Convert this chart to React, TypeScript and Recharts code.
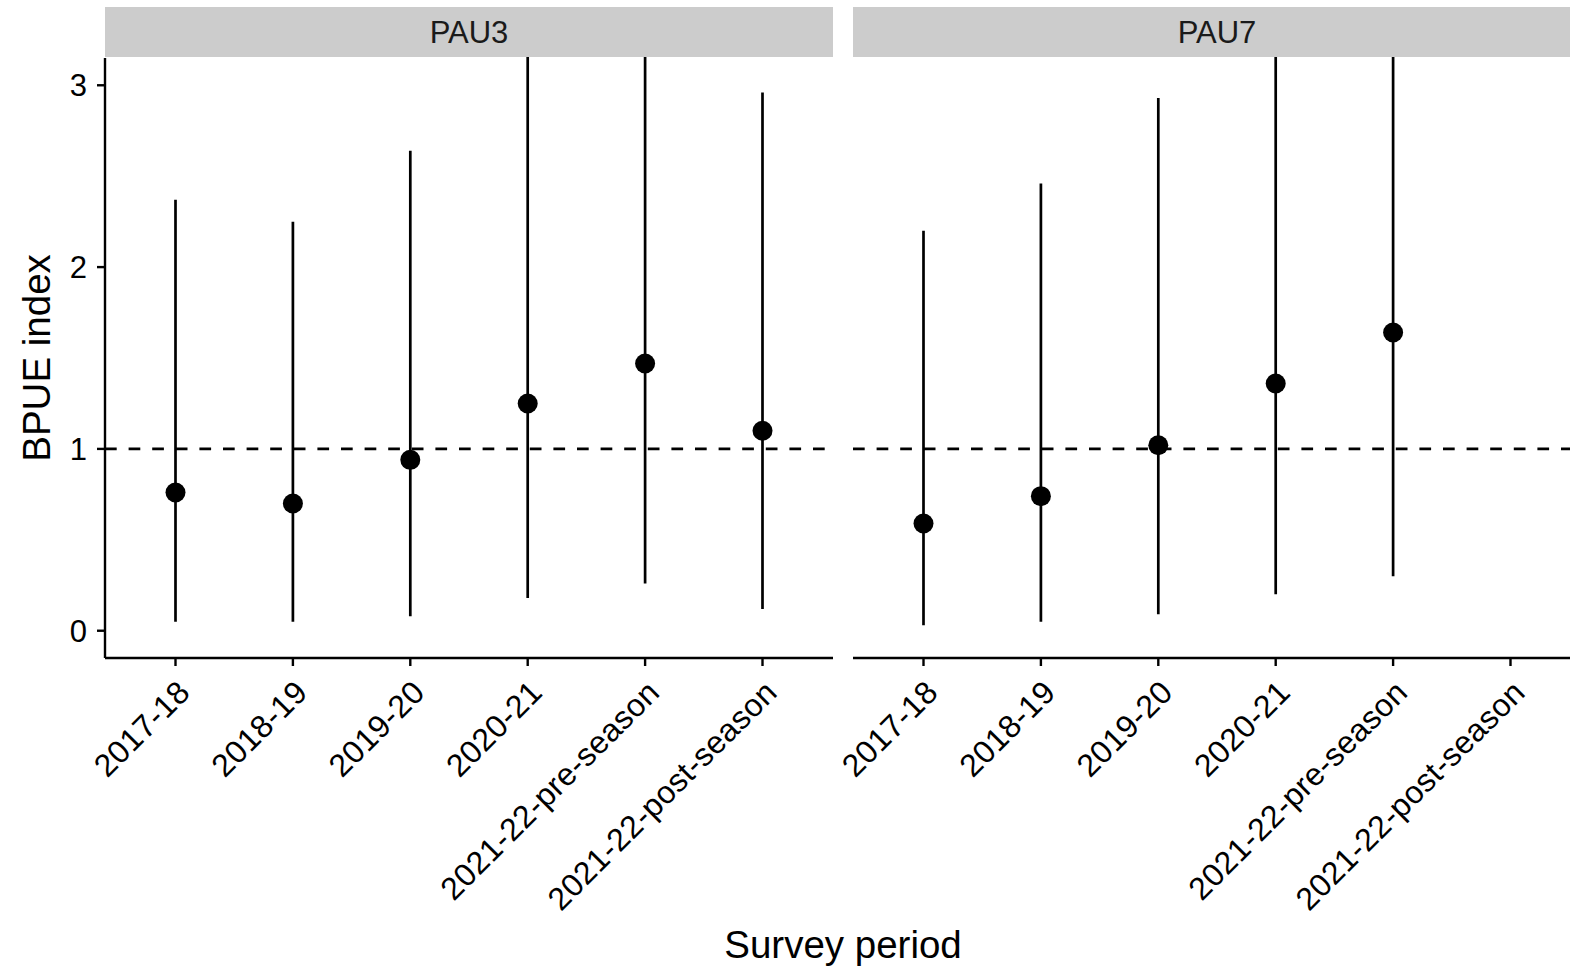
import React from 'react';
import { ComposedChart, Scatter, ErrorBar, XAxis, YAxis, ReferenceLine } from 'recharts';

const periods = [
  '2017-18',
  '2018-19',
  '2019-20',
  '2020-21',
  '2021-22-pre-season',
  '2021-22-post-season',
];

// PAU3 estimates and interval bounds
const pau3Est = [0.76, 0.70, 0.94, 1.25, 1.47, 1.10];
const pau3Lo = [0.05, 0.05, 0.08, 0.18, 0.26, 0.12];
const pau3Hi = [2.37, 2.25, 2.64, 3.6, 3.9, 2.96];

// PAU7 has no post-season estimate
const pau7Est = [0.59, 0.74, 1.02, 1.36, 1.64, null];
const pau7Lo = [0.03, 0.05, 0.09, 0.2, 0.3, null];
const pau7Hi = [2.2, 2.46, 2.93, 3.7, 4.2, null];

const yTicks = [0, 1, 2, 3];
const panels = ['PAU3', 'PAU7'];

const FONT = '"Liberation Sans", Arial, Helvetica, sans-serif';

const buildRows = (est: (number | null)[], lo: (number | null)[], hi: (number | null)[]) =>
  periods.map((p, i) => {
    const e = est[i];
    return {
      period: p,
      est: e,
      err: e == null ? null : [e - (lo[i] as number), (hi[i] as number) - e],
    };
  });

const pau3Rows = buildRows(pau3Est, pau3Lo, pau3Hi);
const pau7Rows = buildRows(pau7Est, pau7Lo, pau7Hi);

const RotTick = (props: any) => {
  const { x, y, payload } = props;
  return (
    <text
      x={x}
      y={y}
      dy="0.72em"
      textAnchor="end"
      fontSize={32}
      letterSpacing={0.3}
      fill="#000"
      transform={`rotate(-45, ${x}, ${y})`}
    >
      {payload.value}
    </text>
  );
};

const Dot = (props: any) => {
  if (props.cy == null || isNaN(props.cy) || props.payload?.est == null) return <g />;
  return <circle cx={props.cx} cy={props.cy} r={10} fill="#000" />;
};

const YLabel = (props: any) => {
  const vb = props.viewBox || { x: 0, y: 58, width: 105, height: 600 };
  const cx = vb.x + 50;
  const cy = vb.y + vb.height / 2;
  return (
    <text x={cx} y={cy} transform={`rotate(-90, ${cx}, ${cy})`} textAnchor="middle" fontSize={38.5} fill="#000">
      BPUE index
    </text>
  );
};

// left panel: plot area 105..833, right panel: plot area 853..1581
const Panel = ({ rows, showY }: { rows: any[]; showY: boolean }) => (
  <ComposedChart
    width={showY ? 840 : 888}
    height={970}
    data={rows}
    margin={{ top: 58, right: 7, bottom: 282, left: showY ? 0 : 153 }}
  >
    <XAxis
      dataKey="period"
      type="category"
      interval={0}
      height={30}
      padding={{ left: 70.5, right: 70.5 }}
      tickSize={8}
      tickMargin={12}
      axisLine={{ stroke: '#000', strokeWidth: 2.4 }}
      tickLine={{ stroke: '#000', strokeWidth: 2.4 }}
      tick={<RotTick />}
    />
    <YAxis
      type="number"
      domain={[-0.15, 3.15]}
      allowDataOverflow
      ticks={yTicks}
      hide={!showY}
      width={showY ? 105 : 0}
      tickSize={8}
      tickMargin={10}
      axisLine={{ stroke: '#000', strokeWidth: 2.4 }}
      tickLine={{ stroke: '#000', strokeWidth: 2.4 }}
      tick={{ fontSize: 31, fill: '#000' }}
      label={showY ? { content: <YLabel /> } : undefined}
    />
    <ReferenceLine y={1} stroke="#000" strokeWidth={2.6} strokeDasharray="11.7 11.9" />
    <Scatter dataKey="est" isAnimationActive={false} shape={<Dot />}>
      <ErrorBar dataKey="err" direction="y" width={0} stroke="#000" strokeWidth={2.7} isAnimationActive={false} />
    </Scatter>
  </ComposedChart>
);

export default function App() {
  return (
    <div
      style={{
        position: 'fixed',
        left: 0,
        top: 0,
        width: 1570,
        height: 970,
        overflow: 'hidden',
        background: '#fff',
        fontFamily: FONT,
      }}
    >
      <div style={{ position: 'absolute', left: 0, top: 0 }}>
        <Panel rows={pau3Rows} showY />
      </div>
      <div style={{ position: 'absolute', left: 700, top: 0 }}>
        <Panel rows={pau7Rows} showY={false} />
      </div>
      <svg
        width={1570}
        height={970}
        style={{ position: 'absolute', left: 0, top: 0, pointerEvents: 'none', fontFamily: FONT }}
      >
        <rect x={0} y={0} width={1570} height={7} fill="#fff" />
        <rect x={105} y={7} width={728} height={50} fill="#CCCCCC" />
        <rect x={853} y={7} width={728} height={50} fill="#CCCCCC" />
        <text x={469} y={43} textAnchor="middle" fontSize={31} fill="#1a1a1a">
          {panels[0]}
        </text>
        <text x={1217} y={43} textAnchor="middle" fontSize={31} fill="#1a1a1a">
          {panels[1]}
        </text>
        <text x={843} y={958} textAnchor="middle" fontSize={38.5} fill="#000">
          Survey period
        </text>
      </svg>
    </div>
  );
}
